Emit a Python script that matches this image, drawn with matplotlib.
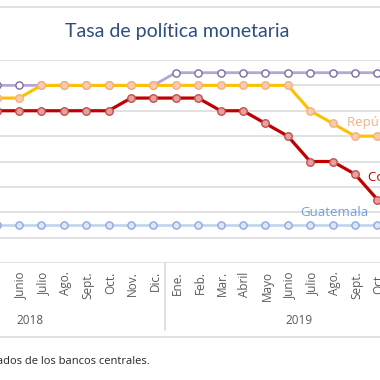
import numpy as np
import matplotlib
matplotlib.use("Agg")
import matplotlib.pyplot as plt
from matplotlib.lines import Line2D

months = ["Ene.", "Feb.", "Mar.", "Abril", "Mayo", "Junio", "Julio", "Ago.",
          "Sept.", "Oct.", "Nov.", "Dic."] * 2
years = ["2018", "2019"]
nan = np.nan

# tasas (%) por mes, ene-2018 a dic-2019 (meses fuera del recorte: NaN)
honduras = [nan, nan, nan, nan, 5.50, 5.50, 5.50, 5.50, 5.50, 5.50, 5.50, 5.50,
            5.75, 5.75, 5.75, 5.75, 5.75, 5.75, 5.75, 5.75, 5.75, 5.75, nan, nan]
rep_dominicana = [nan, nan, nan, nan, 5.25, 5.25, 5.50, 5.50, 5.50, 5.50, 5.50, 5.50,
                  5.50, 5.50, 5.50, 5.50, 5.50, 5.50, 5.00, 4.75, 4.50, 4.50, nan, nan]
costa_rica = [nan, nan, nan, nan, 5.00, 5.00, 5.00, 5.00, 5.00, 5.00, 5.25, 5.25,
              5.25, 5.25, 5.00, 5.00, 4.75, 4.50, 4.00, 4.00, 3.75, 3.25, nan, nan]
guatemala = [nan, nan, nan, nan, 2.75, 2.75, 2.75, 2.75, 2.75, 2.75, 2.75, 2.75,
             2.75, 2.75, 2.75, 2.75, 2.75, 2.75, 2.75, 2.75, 2.75, 2.75, nan, nan]

W = H = 380
fig = plt.figure(figsize=(3.8, 3.8), dpi=100)
plt.rcParams['font.family'] = ['Open Sans', 'DejaVu Sans']

def fy(py):
    return 1 - py / H

# axes: y 2.0 at px 263, 6.0 at px 60
ax = fig.add_axes([0, fy(263), 1, fy(60) - fy(263)])
x = np.arange(len(months))
step = 22.4
x0 = -3.4 - 4 * step  # pixel of Ene 2018

for v in np.arange(2.0, 6.01, 0.5):
    ax.axhline(v, color="#d9d9d9", lw=1.1, zorder=1)

ax.plot(x, guatemala, color="#c5d5ee", lw=2, marker="o", ms=5.2,
        mfc="#dce6f5", mec="#8eaadb", mew=1, zorder=3)
ax.plot(x, honduras, color="#b4a7d6", lw=2, marker="o", ms=5.2,
        mfc="white", mec="#7f6a9f", mew=1, zorder=3)
ax.plot(x, rep_dominicana, color="#ffc000", lw=2.2, marker="o", ms=5.4,
        mfc="#f8cbad", mec="#f4b183", mew=1, zorder=4)
ax.plot(x, costa_rica, color="#c00000", lw=2.3, marker="o", ms=5.4,
        mfc="#e6a0a0", mec="#c0504d", mew=1, zorder=5)

ax.text(19.65, 4.76, "República Dominicana", color="#f4b183", fontsize=9.5,
        va="center", ha="left")
ax.text(20.6, 3.68, "Costa Rica", color="#c00000", fontsize=9.5,
        va="center", ha="left")
ax.text(19.06, 2.99, "Guatemala", color="#6f9fdc", fontsize=9.5,
        va="center", ha="center")

ax.set_xticks(x + 0.08)
ax.set_xticklabels(months, rotation=90, fontsize=8.5, color="#595959")
ax.tick_params(axis="x", length=0, pad=6)
ax.set_yticks([])
ax.set_xlim((0 - x0) / step, (W - x0) / step)
ax.set_ylim(2.0, 6.0)
for s in ax.spines.values():
    s.set_visible(False)

# separador entre años y etiquetas de año
fig.add_artist(Line2D([(x0 + 11.5 * step) / W] * 2, [fy(263), fy(330)],
                      color="#d9d9d9", lw=1.1))
for i, yr in enumerate(years):
    cx = (x0 + (5.5 + 12 * i) * step) / W
    fig.text(cx, fy(321), yr, ha="center", va="center", fontsize=8.5, color="#595959")

fig.add_artist(Line2D([0, 1], [fy(337), fy(337)], color="#d9d9d9", lw=1.1))
fig.add_artist(Line2D([0, 1], [fy(7), fy(7)], color="#d9d9d9", lw=1.1))

fig.text(177 / W, fy(32), "Tasa de política monetaria", ha="center", va="center",
         fontsize=14, color="#2f4e7e", family=["Lato", "DejaVu Sans"])
fig.text(150 / W, fy(362), "Fuente: datos tomados de los bancos centrales.",
         ha="right", va="center", fontsize=8, color="#262626")

fig.savefig("out.png", dpi=100)
